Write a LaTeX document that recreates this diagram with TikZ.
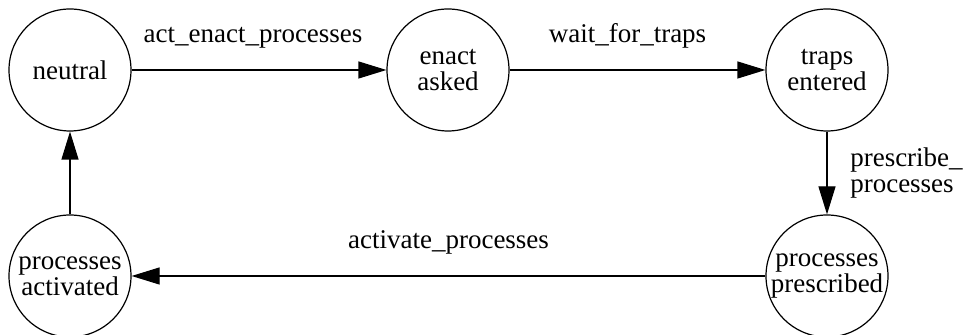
\documentclass[tikz,border=0pt]{standalone}
\usepackage{fontspec}
\setmainfont{Liberation Serif}
\usetikzlibrary{arrows.meta}
\begin{document}
\begin{tikzpicture}[x=0.5pt,y=0.5pt,line width=0.6pt,>={Triangle[length=14pt,width=8.5pt]},
  state/.style={circle,draw,minimum size=61pt,inner sep=0pt,align=center,font=\fontsize{13.5}{13}\selectfont},
  lbl/.style={font=\fontsize{13.5}{13}\selectfont}]
  \useasboundingbox (0,0) rectangle (964,335);
  \node[state] (neutral) at (70,265) {neutral};
  \node[state] (enact) at (448,265) {enact\\asked};
  \node[state] (traps) at (827,265) {traps\\entered};
  \node[state] (prescribed) at (827,59) {processes\\prescribed};
  \node[state] (activated) at (70,59) {processes\\activated};
  \draw[->] (neutral) -- node[lbl,above=7pt,xshift=-3pt] {act\_enact\_processes} (enact);
  \draw[->] (enact) -- node[lbl,above=7pt,xshift=-5pt] {wait\_for\_traps} (traps);
  \draw[->] (traps) -- node[lbl,right=8pt,align=left] {prescribe\_\\processes} (prescribed);
  \draw[->] (prescribed) -- node[lbl,above=7pt] {activate\_processes} (activated);
  \draw[->] (activated) -- (neutral);
\end{tikzpicture}
\end{document}
